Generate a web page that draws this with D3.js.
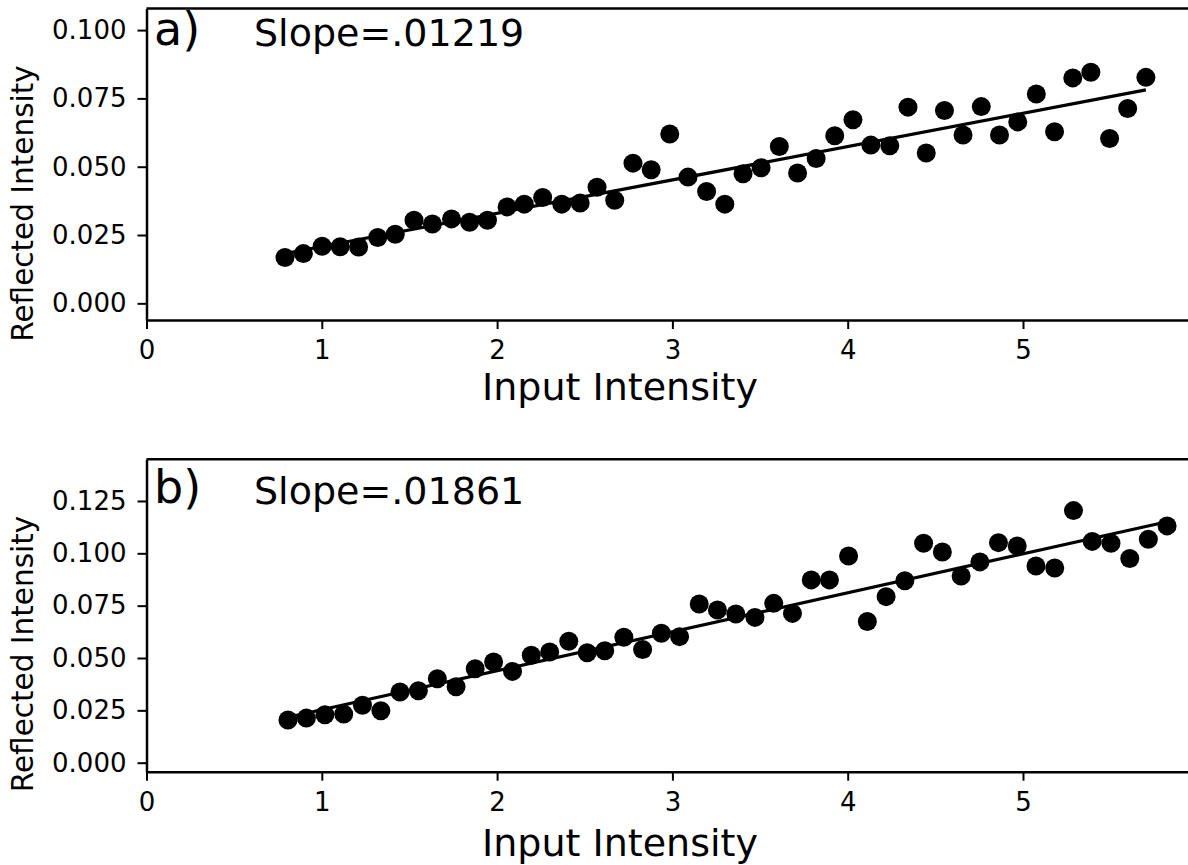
<!DOCTYPE html>
<html>
<head>
<meta charset="utf-8">
<script src="https://cdn.jsdelivr.net/npm/d3@7"></script>
<style>
  body { margin: 0; background: #fff; }
  svg { display: block; font-family: "DejaVu Sans", sans-serif; }
</style>
</head>
<body>
<div id="chart"></div>
<script>
// panel a)
const inputA = [0.790, 0.895, 1.002, 1.105, 1.210, 1.319, 1.419, 1.526, 1.631, 1.740, 1.843, 1.945,
  2.057, 2.155, 2.260, 2.369, 2.474, 2.570, 2.671, 2.775, 2.879, 2.985, 3.089, 3.195,
  3.299, 3.403, 3.506, 3.610, 3.714, 3.820, 3.926, 4.030, 4.132, 4.240, 4.344, 4.448,
  4.552, 4.658, 4.762, 4.866, 4.970, 5.076, 5.180, 5.284, 5.387, 5.494, 5.597, 5.701];
const reflA = [0.0168, 0.0182, 0.0209, 0.0207, 0.0206, 0.0241, 0.0253, 0.0304, 0.0290, 0.0309, 0.0297, 0.0304,
  0.0353, 0.0363, 0.0387, 0.0363, 0.0367, 0.0425, 0.0377, 0.0513, 0.0489, 0.0620, 0.0462, 0.0409,
  0.0363, 0.0474, 0.0496, 0.0574, 0.0477, 0.0530, 0.0613, 0.0672, 0.0579, 0.0577, 0.0718, 0.0550,
  0.0706, 0.0616, 0.0720, 0.0616, 0.0664, 0.0766, 0.0628, 0.0825, 0.0846, 0.0603, 0.0713, 0.0827];

// panel b)
const inputB = [0.807, 0.912, 1.018, 1.125, 1.232, 1.337, 1.446, 1.551, 1.659, 1.766, 1.875, 1.980,
  2.088, 2.195, 2.300, 2.409, 2.514, 2.614, 2.723, 2.830, 2.937, 3.041, 3.153, 3.257,
  3.362, 3.471, 3.578, 3.685, 3.792, 3.896, 4.005, 4.112, 4.219, 4.326, 4.433, 4.540,
  4.647, 4.754, 4.860, 4.967, 5.074, 5.181, 5.288, 5.395, 5.502, 5.609, 5.715, 5.822];
const reflB = [0.0204, 0.0213, 0.0229, 0.0232, 0.0274, 0.0248, 0.0338, 0.0344, 0.0401, 0.0363, 0.0449, 0.0481,
  0.0436, 0.0513, 0.0529, 0.0580, 0.0525, 0.0535, 0.0599, 0.0541, 0.0618, 0.0602, 0.0758, 0.0729,
  0.0710, 0.0694, 0.0761, 0.0713, 0.0873, 0.0873, 0.0987, 0.0674, 0.0793, 0.0869, 0.1048, 0.1006,
  0.0892, 0.0959, 0.1051, 0.1035, 0.0939, 0.0930, 0.1204, 0.1057, 0.1048, 0.0975, 0.1067, 0.1131];

// linear fits: [slope, intercept]
const fitA = [0.01219, 0.0086];
const fitB = [0.01861, 0.0067];

const panelLabels = ["a)", "b)"];
const slopeLabels = ["Slope=.01219", "Slope=.01861"];
const xTicks = [0, 1, 2, 3, 4, 5];
const yTicksA = [0, 0.025, 0.05, 0.075, 0.1];
const yTicksB = [0, 0.025, 0.05, 0.075, 0.1, 0.125];
const xTitle = "Input Intensity";
const yTitle = "Reflected Intensity";

const W = 1188, H = 865;
const left = 146.5;

const svg = d3.select("#chart").append("svg")
  .attr("width", W)
  .attr("height", H);

svg.append("rect").attr("width", W).attr("height", H).attr("fill", "#fff");

const panels = [
  { xs: inputA, ys: reflA, fit: fitA, yTicks: yTicksA, yDom: [-0.0061, 0.1079],
    top: 8.5, bottom: 320, label: panelLabels[0], slope: slopeLabels[0],
    labelY: 45, ytitleY: 203.5, xtitleY: 400 },
  { xs: inputB, ys: reflB, fit: fitB, yTicks: yTicksB, yDom: [-0.0043, 0.1449],
    top: 459.3, bottom: 771.7, label: panelLabels[1], slope: slopeLabels[1],
    labelY: 503, ytitleY: 654, xtitleY: 856 }
];

panels.forEach(p => {
  const x = d3.scaleLinear().domain([0, 6]).range([left, left + 175.3 * 6]);
  const y = d3.scaleLinear().domain(p.yDom).range([p.bottom, p.top]);

  const g = svg.append("g");

  // x axis
  const xa = g.append("g")
    .attr("transform", `translate(0,${p.bottom})`)
    .call(d3.axisBottom(x).tickValues(xTicks).tickFormat(d3.format("d"))
      .tickSize(9).tickPadding(12).tickSizeOuter(0));
  // y axis
  const ya = g.append("g")
    .attr("transform", `translate(${left},0)`)
    .call(d3.axisLeft(y).tickValues(p.yTicks).tickFormat(d3.format(".3f"))
      .tickSize(9).tickPadding(11).tickSizeOuter(0));

  [xa, ya].forEach(a => {
    a.select(".domain").attr("stroke", "#000").attr("stroke-width", 2.5);
    a.selectAll(".tick line").attr("stroke", "#000").attr("stroke-width", 2);
    a.selectAll(".tick text").attr("fill", "#000")
      .style("font-size", "26px").style("font-family", "DejaVu Sans");
  });

  // top spine
  g.append("line")
    .attr("x1", left).attr("x2", W + 5)
    .attr("y1", p.top).attr("y2", p.top)
    .attr("stroke", "#000").attr("stroke-width", 2.5);

  // fit line
  const ext = d3.extent(p.xs);
  g.append("path")
    .datum(ext)
    .attr("fill", "none")
    .attr("stroke", "#000")
    .attr("stroke-width", 3.2)
    .attr("d", d3.line().x(d => x(d)).y(d => y(p.fit[0] * d + p.fit[1])));

  // points
  g.selectAll("circle")
    .data(p.xs.map((v, i) => [v, p.ys[i]]))
    .join("circle")
    .attr("cx", d => x(d[0]))
    .attr("cy", d => y(d[1]))
    .attr("r", 9.5)
    .attr("fill", "#000");

  // labels
  g.append("text")
    .attr("x", 154).attr("y", p.labelY)
    .style("font-size", "46px")
    .text(p.label);

  g.append("text")
    .attr("x", 254).attr("y", p.labelY + 1)
    .style("font-size", "38px")
    .text(p.slope);

  g.append("text")
    .attr("x", 620).attr("y", p.xtitleY)
    .attr("text-anchor", "middle")
    .style("font-size", "38px")
    .text(xTitle);

  g.append("text")
    .attr("transform", `translate(33,${p.ytitleY}) rotate(-90)`)
    .attr("text-anchor", "middle")
    .style("font-size", "29.5px")
    .text(yTitle);
});
</script>
</body>
</html>
